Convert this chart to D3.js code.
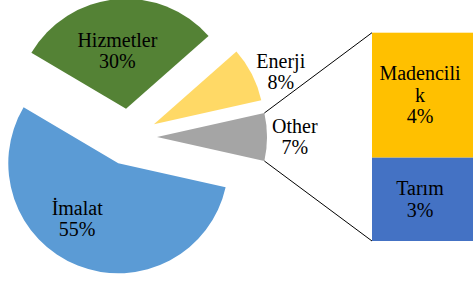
<!DOCTYPE html>
<html>
<head>
<meta charset="utf-8">
<script src="https://cdn.jsdelivr.net/npm/d3@7"></script>
</head>
<body style="margin:0">
<script>
// pie part (Other = sum of the bar part)
const pieNames = ["İmalat", "Hizmetler", "Enerji"]
const pieValues = [55, 30, 8]
const pieColors = ["#5B9BD5", "#548235", "#FFD966"]

// bar part, top to bottom
const barNames = [["Madencili", "k"], ["Tarım"]]
const barValues = [4.2, 2.8]
const barColors = ["#FFC000", "#4472C4"]

const otherName = "Other"
const otherColor = "#A5A5A5"

const W = 473, H = 281
const cx = 128.7, cy = 137, radius = 110, explode = 28.3
const fs = 20, lh = 21.5
const serif = '"Times New Roman", "Liberation Serif", Tinos, Times, serif'

// labels drawn beside the slice instead of on it
const outsideLabels = ["Enerji", otherName]

const svg = d3.select("body").append("svg")
  .attr("width", W)
  .attr("height", H)

const otherValue = d3.sum(barValues)
const slices = pieNames.map((n, i) => ({name: n, value: pieValues[i], color: pieColors[i]}))
slices.push({name: otherName, value: otherValue, color: otherColor})
const total = d3.sum(slices, d => d.value)

// keep Other centred on the right
const otherAngle = 2 * Math.PI * otherValue / total
const startA = Math.PI / 2 + otherAngle / 2

const arcs = d3.pie()
  .sort(null)
  .value(d => d.value)
  .startAngle(startA)
  .endAngle(startA + 2 * Math.PI)(slices)

const arc = d3.arc().innerRadius(0).outerRadius(radius)

const mid = d => (d.startAngle + d.endAngle) / 2
const polar = (a, r) => [r * Math.sin(a), -r * Math.cos(a)]

const pieG = svg.append("g").attr("transform", `translate(${cx},${cy})`)

const slice = pieG.selectAll("g.slice")
  .data(arcs)
  .join("g")
  .attr("class", "slice")
  .attr("transform", d => {
    const [x, y] = polar(mid(d), explode)
    return `translate(${x},${y})`
  })

slice.append("path")
  .attr("d", arc)
  .attr("fill", d => d.data.color)

// one <text> per line, centred on x around yMid
function addLines(sel, lines, x, yMid) {
  const first = yMid - (lines.length - 1) * lh / 2 + 0.33 * fs
  return lines.map((s, i) => sel.append("text")
    .attr("x", x)
    .attr("y", first + i * lh)
    .attr("text-anchor", "middle")
    .attr("font-size", fs)
    .style("font-family", serif)
    .text(s))
}

const insideLabelR = 60
const labelNudge = {"İmalat": [-19, 0], "Hizmetler": [-3, 2]}

slice.each(function(d) {
  const sel = d3.select(this)
  const lines = [d.data.name, Math.round(d.data.value / total * 100) + "%"]
  if (!outsideLabels.includes(d.data.name)) {
    const [x, y] = polar(mid(d), insideLabelR)
    const nd = labelNudge[d.data.name] || [0, 0]
    addLines(sel, lines, x + nd[0], y + nd[1])
  } else {
    const [x, y] = polar(mid(d), radius + 5)
    const ts = addLines(sel, lines, x, y)
    const w = d3.max(ts, t => t.node().getComputedTextLength())
    ts.forEach(t => t.attr("x", x + w / 2))
  }
})

// bar of the Other slice
const barX = 372, barW = 102
const yScale = d3.scaleLinear().domain([0, otherValue]).range([32.7, 241])
let acc = 0
const bars = barValues.map((v, i) => {
  const b = {lines: barNames[i], value: v, color: barColors[i], y0: acc, y1: acc + v}
  acc += v
  return b
})

svg.selectAll("rect.bar")
  .data(bars)
  .join("rect")
  .attr("class", "bar")
  .attr("x", barX)
  .attr("width", barW)
  .attr("y", d => yScale(d.y0))
  .attr("height", d => yScale(d.y1) - yScale(d.y0))
  .attr("fill", d => d.color)

bars.forEach(b => {
  addLines(svg, [...b.lines, Math.round(b.value / total * 100) + "%"], barX + 48, (yScale(b.y0) + yScale(b.y1)) / 2)
})

// connector lines from Other slice to bar
const od = arcs[arcs.length - 1]
const off = polar(mid(od), explode)
const pTop = polar(od.startAngle, radius)
const pBot = polar(od.endAngle, radius)
svg.append("line")
  .attr("x1", cx + off[0] + pTop[0]).attr("y1", cy + off[1] + pTop[1])
  .attr("x2", barX).attr("y2", yScale(0))
  .attr("stroke", "#000").attr("stroke-width", 1)
svg.append("line")
  .attr("x1", cx + off[0] + pBot[0]).attr("y1", cy + off[1] + pBot[1])
  .attr("x2", barX).attr("y2", yScale(otherValue))
  .attr("stroke", "#000").attr("stroke-width", 1)
</script>
</body>
</html>
